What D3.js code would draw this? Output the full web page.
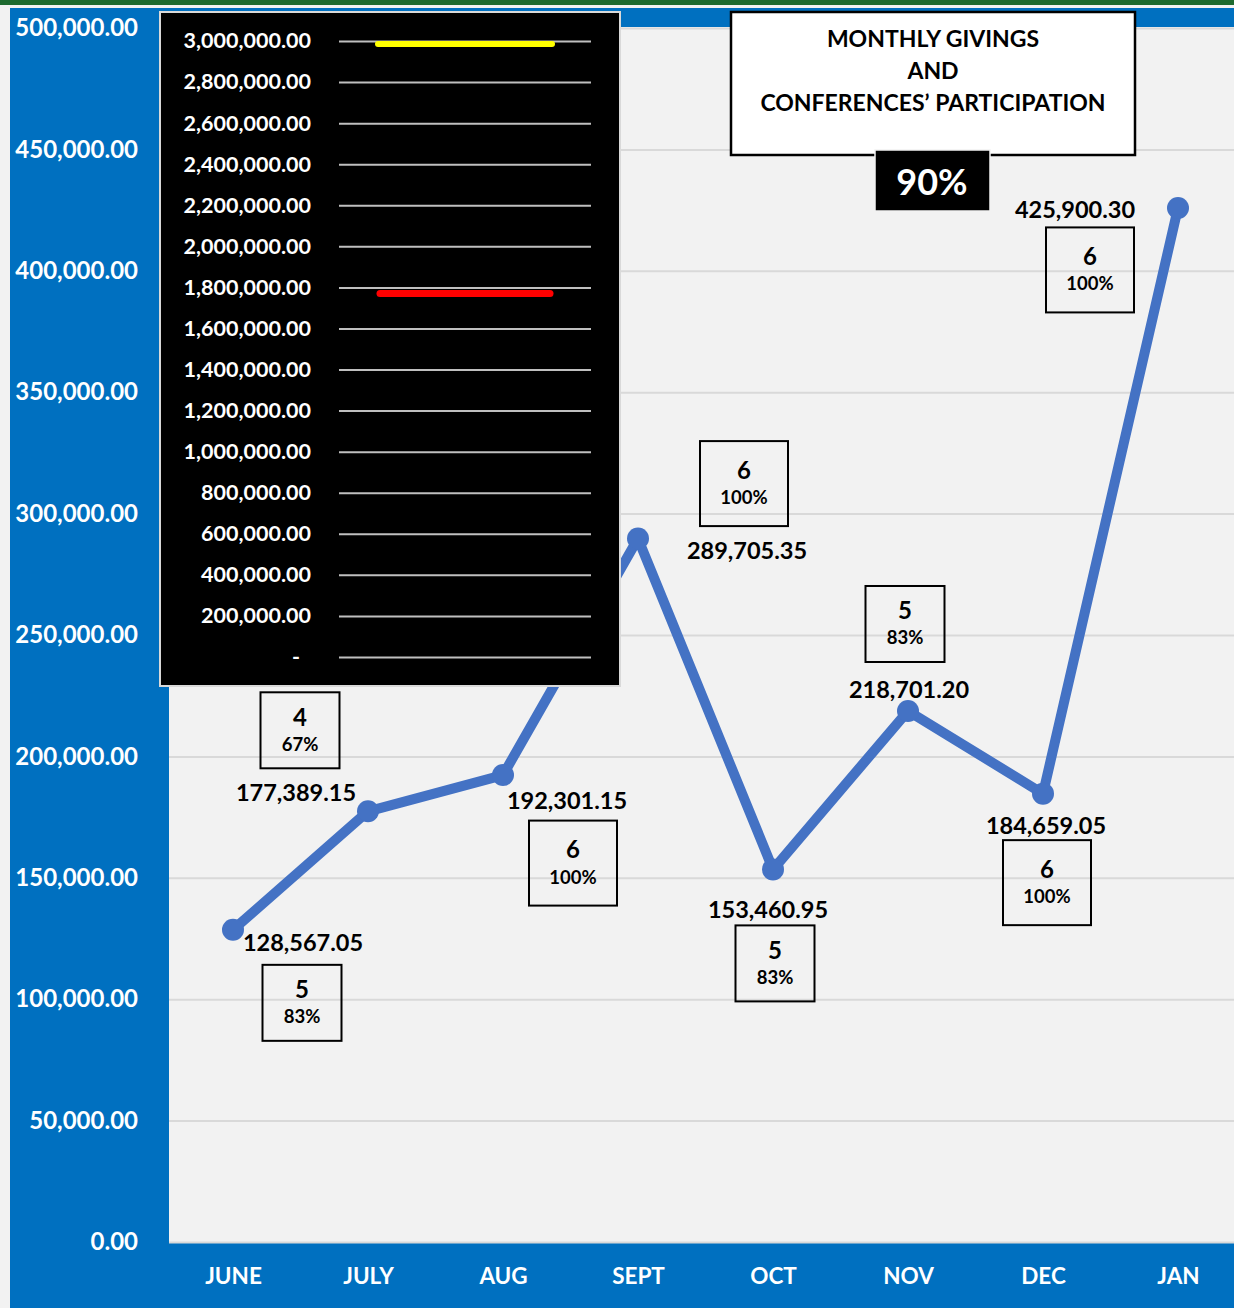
<!DOCTYPE html>
<html>
<head>
<meta charset="utf-8">
<script src="https://d3js.org/d3.v7.min.js"></script>
<style>
body { margin: 0; background: #f2f2f2; }
svg text { font-family: Lato, "Open Sans", sans-serif; font-weight: bold; }
.domain { display: none; }
</style>
</head>
<body>
<script>
// main chart data
var months = ["JUNE", "JULY", "AUG", "SEPT", "OCT", "NOV", "DEC", "JAN"];
var givings = [128567.05, 177389.15, 192301.15, 289705.35, 153460.95, 218701.20, 184659.05, 425900.30];
var conferences = [5, 4, 6, 6, 5, 5, 6, 6];
var participation = ["83%", "67%", "100%", "100%", "83%", "83%", "100%", "100%"];
var yTicks = [0, 50000, 100000, 150000, 200000, 250000, 300000, 350000, 400000, 450000, 500000];

// inset (thermometer style) data
var insetTicks = [0, 200000, 400000, 600000, 800000, 1000000, 1200000, 1400000, 1600000,
                  1800000, 2000000, 2200000, 2400000, 2600000, 2800000, 3000000];
var insetGoal = 2985000;
var insetTotal = 1770000;

var titleLines = ["MONTHLY GIVINGS", "AND", "CONFERENCES\u2019 PARTICIPATION"];
var overallPct = "90%";

// label placement relative to each point: [value dx, value dy, box dx, box dy]
var labelPos = [
  [70, 13, 69, 73],
  [-72, -19, -68, -81],
  [64, 26, 70, 88],
  [109, 12, 106, -55],
  [-5, 40, 2, 94],
  [1, -21, -3, -87],
  [3, 32, 4, 89],
  [-103, 2, -88, 62]
];

var W = 1234, H = 1308;
var plot = {left: 169, right: 1234, top: 27, bottom: 1242};

var svg = d3.select("body").append("svg")
    .attr("width", W)
    .attr("height", H);

svg.append("rect").attr("width", W).attr("height", H).attr("fill", "#f2f2f2");
svg.append("rect").attr("x", 0).attr("y", 0).attr("width", W).attr("height", 5).attr("fill", "#1d6a2f");
svg.append("rect").attr("x", 10).attr("y", 8).attr("width", W - 10).attr("height", H - 8).attr("fill", "#0070c0");
svg.append("rect")
    .attr("x", plot.left).attr("y", plot.top)
    .attr("width", plot.right - plot.left).attr("height", plot.bottom - plot.top)
    .attr("fill", "#f2f2f2");

var x = d3.scalePoint().domain(months).range([233, 1178]);
var y = d3.scaleLinear().domain([0, 500000]).range([plot.bottom, plot.top + 1]);

// gridlines
svg.append("g")
    .attr("transform", "translate(" + plot.left + ",0)")
    .call(d3.axisLeft(y).tickValues(yTicks).tickSize(-(plot.right - plot.left)).tickFormat(""))
  .selectAll("line")
    .attr("stroke", "#d9d9d9")
    .attr("stroke-width", 2);

// y axis labels
var yAxis = svg.append("g")
    .attr("transform", "translate(138,0)")
    .call(d3.axisLeft(y).tickValues(yTicks).tickSize(0).tickPadding(0).tickFormat(d3.format(",.2f")));
yAxis.selectAll("text")
    .attr("fill", "#fff")
    .style("font-size", "24px");

// x axis labels
var xAxis = svg.append("g")
    .attr("transform", "translate(0,1268)")
    .call(d3.axisBottom(x).tickSize(0).tickPadding(0));
xAxis.selectAll("text")
    .attr("fill", "#fff")
    .style("font-size", "22.5px");

// line
var pts = months.map(function(m, i) { return {m: m, v: givings[i], i: i}; });
svg.append("path")
    .datum(pts)
    .attr("fill", "none")
    .attr("stroke", "#4472c4")
    .attr("stroke-width", 10)
    .attr("stroke-linejoin", "round")
    .attr("d", d3.line().x(function(d) { return x(d.m); }).y(function(d) { return y(d.v); }));

svg.selectAll(".dot")
    .data(pts)
  .enter().append("circle")
    .attr("class", "dot")
    .attr("r", 11)
    .attr("cx", function(d) { return x(d.m); })
    .attr("cy", function(d) { return y(d.v); })
    .attr("fill", "#4472c4");

// value labels
svg.selectAll(".vlabel")
    .data(pts)
  .enter().append("text")
    .attr("class", "vlabel")
    .attr("x", function(d) { return x(d.m) + labelPos[d.i][0]; })
    .attr("y", function(d) { return y(d.v) + labelPos[d.i][1]; })
    .attr("dy", "0.35em")
    .attr("text-anchor", "middle")
    .style("font-size", "23.5px")
    .attr("fill", "#000")
    .text(function(d) { return d3.format(",.2f")(d.v); });

// conference boxes
var box = svg.selectAll(".cbox")
    .data(pts)
  .enter().append("g")
    .attr("class", "cbox")
    .attr("transform", function(d) {
      return "translate(" + (x(d.m) + labelPos[d.i][2]) + "," + (y(d.v) + labelPos[d.i][3]) + ")";
    });
box.append("rect")
    .attr("x", function(d) { return participation[d.i].length > 3 ? -44 : -39.5; })
    .attr("y", function(d) { return participation[d.i].length > 3 ? -42.5 : -38; })
    .attr("width", function(d) { return participation[d.i].length > 3 ? 88 : 79; })
    .attr("height", function(d) { return participation[d.i].length > 3 ? 85 : 76; })
    .attr("fill", "none")
    .attr("stroke", "#000")
    .attr("stroke-width", 2);
box.append("text")
    .attr("y", -13)
    .attr("dy", "0.35em")
    .attr("text-anchor", "middle")
    .style("font-size", "24px")
    .text(function(d) { return conferences[d.i]; });
box.append("text")
    .attr("y", 14)
    .attr("dy", "0.35em")
    .attr("text-anchor", "middle")
    .style("font-size", "18.5px")
    .text(function(d) { return participation[d.i]; });

// title box
svg.append("rect")
    .attr("x", 731).attr("y", 12).attr("width", 404).attr("height", 143)
    .attr("fill", "#fff").attr("stroke", "#000").attr("stroke-width", 2.5);
svg.selectAll(".title")
    .data(titleLines)
  .enter().append("text")
    .attr("class", "title")
    .attr("x", 933)
    .attr("y", function(d, i) { return 39 + i * 32; })
    .attr("dy", "0.35em")
    .attr("text-anchor", "middle")
    .style("font-size", "23px")
    .text(function(d) { return d; });
svg.append("rect")
    .attr("x", 875).attr("y", 150).attr("width", 115).attr("height", 61)
    .attr("fill", "#000").attr("stroke", "#f2f2f2").attr("stroke-width", 1.5);
svg.append("text")
    .attr("x", 932).attr("y", 182).attr("dy", "0.35em")
    .attr("text-anchor", "middle")
    .attr("fill", "#fff")
    .style("font-size", "36px")
    .text(overallPct);

// inset
var inset = svg.append("g");
inset.append("rect")
    .attr("x", 160).attr("y", 12).attr("width", 460).attr("height", 674)
    .attr("fill", "#000").attr("stroke", "#d9d9d9").attr("stroke-width", 2);
var yi = d3.scaleLinear().domain([0, 3000000]).range([657, 41]);
inset.append("g")
    .attr("transform", "translate(339,0)")
    .call(d3.axisLeft(yi).tickValues(insetTicks).tickSize(-252).tickFormat(""))
  .selectAll("line")
    .attr("stroke", "#bfbfbf")
    .attr("stroke-width", 2);
var ia = inset.append("g")
    .attr("transform", "translate(311,0)")
    .call(d3.axisLeft(yi).tickValues(insetTicks).tickSize(0).tickPadding(0)
      .tickFormat(function(d) { return d === 0 ? "-" : d3.format(",.2f")(d); }));
ia.selectAll("text")
    .attr("fill", "#fff")
    .style("font-size", "21.5px")
    .attr("dx", function(d) { return d === 0 ? -11 : 0; });
inset.append("line")
    .attr("x1", 378).attr("x2", 552)
    .attr("y1", yi(insetGoal)).attr("y2", yi(insetGoal))
    .attr("stroke", "#ffff00").attr("stroke-width", 6).attr("stroke-linecap", "round");
inset.append("line")
    .attr("x1", 380).attr("x2", 550)
    .attr("y1", yi(insetTotal)).attr("y2", yi(insetTotal))
    .attr("stroke", "#ff0000").attr("stroke-width", 7).attr("stroke-linecap", "round");
</script>
</body>
</html>
